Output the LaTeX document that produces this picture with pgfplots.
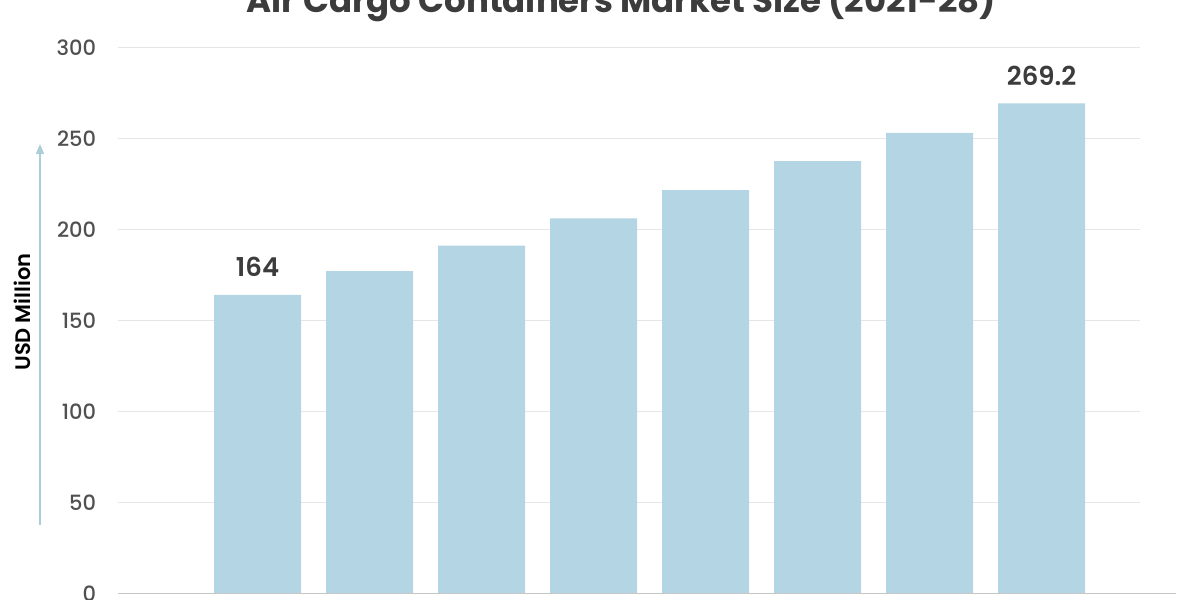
\documentclass[border=0pt]{standalone}
\usepackage{pgfplots}
\pgfplotsset{compat=1.18}
\usepackage{fontspec}
\setmainfont{Poppins}
\newfontfamily\pmed{Poppins Medium}
\newfontfamily\psemi{Poppins SemiBold}
\usetikzlibrary{arrows.meta}
\definecolor{barc}{RGB}{180,213,227}
\definecolor{tickc}{RGB}{80,80,80}
\definecolor{labc}{RGB}{60,60,60}
\definecolor{gridc}{RGB}{230,230,230}
\definecolor{arrc}{RGB}{170,205,215}
\begin{document}
\begin{tikzpicture}[x=0.5pt,y=0.5pt]
\useasboundingbox (0,0) rectangle (1200,600);
\node[anchor=base, font=\fontsize{17}{19}\selectfont\bfseries, text=labc] at (621,587) {Air Cargo Containers Market Size (2021-28)};
\node[rotate=90, font=\fontsize{10.5}{12}\selectfont\psemi, text=black] at (22,288) {USD Million};
\draw[arrc, line width=0.8pt, -{Triangle[length=5pt,width=4pt]}] (40,75) -- (40,456);
\begin{axis}[
  at={(105.5,3.7)}, anchor=south west,
  scale only axis, width=511pt, height=273pt,
  xmin=-1.245, xmax=7.88, ymin=0, ymax=300,
  ytick={0,50,...,300},
  xtick={0,...,7},
  xticklabels={2021,2022,2023,2024,2025,2026,2027,2028},
  ymajorgrids, grid style={draw=gridc, line width=0.6pt},
  axis line style={draw=none},
  major tick length=0pt,
  tick style={draw=none},
  /pgf/number format/assume math mode=true,
  yticklabel style={font=\fontsize{10.5}{12}\selectfont\pmed, text=tickc, anchor=east, xshift=-7.5pt},
  xticklabel style={font=\fontsize{10.5}{12}\selectfont\pmed, text=tickc, yshift=-2pt},
  clip=false,
]
\addplot[ybar, bar width=43.5pt, bar shift=0pt, fill=barc, draw=none] coordinates {
  (0,164) (1,177) (2,191) (3,206) (4,221.5) (5,237.5) (6,253) (7,269.2)
};
\addplot[draw=none, mark=none, point meta=explicit symbolic,
  nodes near coords, nodes near coords style={anchor=south, yshift=5.5pt, font=\fontsize{13}{15}\selectfont\psemi, text=labc}]
  coordinates {(0,164)[164] (7,269.2)[269.2]};
\draw[gray!45, line width=0.7pt] (axis cs:-1.245,0) -- (axis cs:8.2,0);
\end{axis}
\end{tikzpicture}
\end{document}
